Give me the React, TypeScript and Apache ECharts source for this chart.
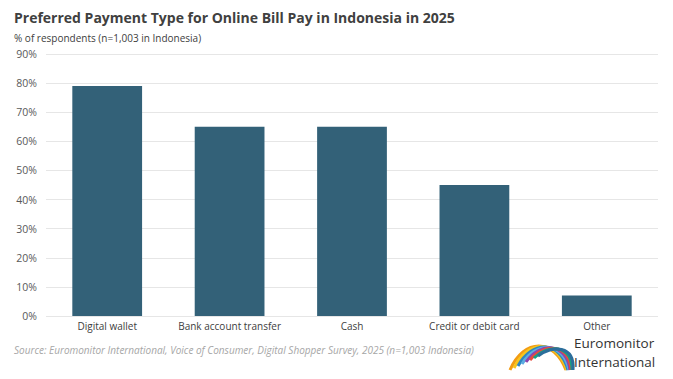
import React, { useEffect, useRef } from "react";
import * as echarts from "echarts";

const categories = ["Digital wallet", "Bank account transfer", "Cash", "Credit or debit card", "Other"];
const values = [79, 65, 65, 45, 7];
const yTicks = [0, 10, 20, 30, 40, 50, 60, 70, 80, 90];

const FONT = "'Open Sans', 'Liberation Sans', sans-serif";

function logoArcs() {
  const cols = ["#f39c12", "#f7c51e", "#2e86c1", "#5dade2", "#8e44ad", "#e74c3c", "#16a085", "#2c6e9b"];
  const items: any[] = [];
  for (let i = 0; i < cols.length; i++) {
    const sx = 510 + i * 4;
    items.push({
      type: "bezierCurve",
      shape: { x1: sx, y1: 370 - i * 2, x2: sx + 56 - i * 3, y2: 370, cpx1: sx + 14, cpy1: 338 + i, cpx2: sx + 44 - i, cpy2: 338 + i },
      style: { stroke: cols[i], lineWidth: 3, fill: null },
      silent: true,
    });
  }
  return items;
}

export default function App() {
  const ref = useRef<HTMLDivElement>(null);
  useEffect(() => {
    const chart = echarts.init(ref.current!, undefined, { renderer: "svg" });
    chart.setOption({
      animation: false,
      backgroundColor: "#ffffff",
      grid: { left: 46, right: 15, top: 54, bottom: 63 },
      xAxis: {
        type: "category",
        data: categories,
        axisLine: { show: false },
        axisTick: { show: false },
        axisLabel: { color: "#404040", fontSize: 10, fontFamily: FONT, margin: 5, interval: 0 },
      },
      yAxis: {
        type: "value",
        min: yTicks[0],
        max: yTicks[yTicks.length - 1],
        interval: 10,
        axisLabel: { formatter: "{value}%", color: "#595959", fontSize: 10.5, fontFamily: FONT, margin: 9 },
        splitLine: { lineStyle: { color: "#e6e6e6", width: 1 } },
        axisLine: { show: false },
        axisTick: { show: false },
      },
      series: [
        {
          type: "bar",
          data: values,
          barWidth: "57%",
          itemStyle: { color: "#336178" },
        },
      ],
      graphic: [
        {
          type: "text",
          left: 14,
          top: 10,
          style: { text: "Preferred Payment Type for Online Bill Pay in Indonesia in 2025", fill: "#404040", font: `bold 14px ${FONT}` },
        },
        {
          type: "text",
          left: 14,
          top: 33,
          style: { text: "% of respondents (n=1,003 in Indonesia)", fill: "#404040", font: `10px ${FONT}` },
        },
        {
          type: "text",
          left: 14,
          top: 345,
          style: {
            text: "Source: Euromonitor International, Voice of Consumer, Digital Shopper Survey, 2025 (n=1,003 Indonesia)",
            fill: "#a6a6a6",
            font: `italic 10px ${FONT}`,
          },
        },
        ...logoArcs(),
        {
          type: "text",
          left: 574,
          top: 336,
          style: { text: "Euromonitor", fill: "#333333", font: `13.5px ${FONT}` },
        },
        {
          type: "text",
          left: 574,
          top: 355,
          style: { text: "International", fill: "#333333", font: `13.5px ${FONT}` },
        },
      ],
    });
    return () => chart.dispose();
  }, []);
  return <div ref={ref} style={{ width: 673, height: 379, position: "absolute", left: 0, top: 0 }} />;
}
